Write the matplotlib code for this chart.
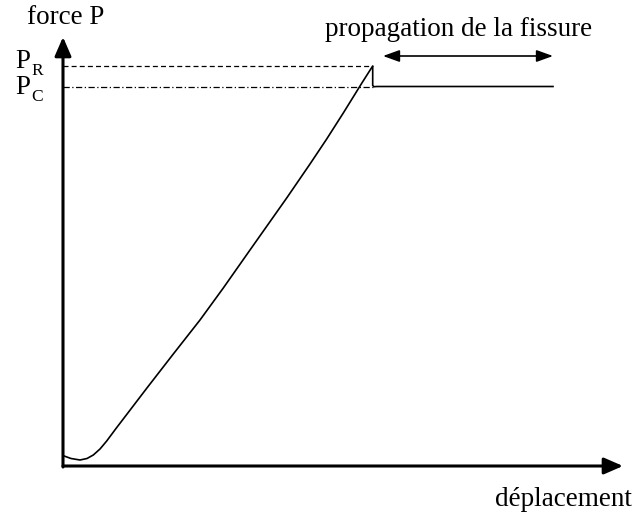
import matplotlib
matplotlib.use("Agg")
import matplotlib.pyplot as plt

# data: displacement / force (arbitrary units, origin at axes corner)
disp = [0.3, 8, 17, 24, 30.3, 37, 43.7, 53, 63.7, 83.7, 110.3, 137, 160.3, 187,
        223.7, 247, 263.7, 280.3, 298.7, 309.7, 309.7, 311, 314, 490]
force = [10.3, 7.5, 6, 7.5, 11, 17, 25, 37.5, 51.5, 77.7, 112, 146, 178, 216,
         268, 302, 327, 353, 382.7, 400, 380.5, 379.3, 379.5, 379.5]
P_R = 400
P_C = 379.5
x_peak = 309.7
prop_start = 320
prop_end = 490
x_axis_end = 560
y_axis_end = 429

FONT = "Liberation Serif"

fig = plt.figure(figsize=(6.32, 5.16), dpi=100)
ax = fig.add_axes([0, 0, 1, 1])
ax.set_xlim(-63, 569)
ax.set_ylim(-50, 466)
ax.axis("off")

# curve
ax.plot(disp, force, color="black", lw=1.2, solid_joinstyle="round")

# reference lines
ax.plot([0, x_peak], [P_R, P_R], color="black", lw=0.9, ls=(0, (4, 2.5)))
ax.plot([0, x_peak], [P_C, P_C], color="black", lw=0.9, ls=(0, (5, 2, 1, 2)))

# axes arrows
ax.annotate("", xy=(x_axis_end, 0), xytext=(0, 0),
            arrowprops=dict(arrowstyle="-|>,head_length=1.15,head_width=0.5", lw=2.2, color="black",
                            shrinkA=0, shrinkB=0))
ax.annotate("", xy=(0, y_axis_end), xytext=(0, -1),
            arrowprops=dict(arrowstyle="-|>,head_length=1.15,head_width=0.5", lw=2.2, color="black",
                            shrinkA=0, shrinkB=0))

# propagation double arrow
ax.annotate("", xy=(prop_end, 410), xytext=(prop_start, 410),
            arrowprops=dict(arrowstyle="<|-|>,head_length=1.0,head_width=0.36", lw=1.2, color="black",
                            shrinkA=0, shrinkB=0))

# texts
ax.text(396, 436, "propagation de la fissure", family=FONT, fontsize=19.5, ha="center", va="center")
ax.text(3, 448, "force P", family=FONT, fontsize=19.5, ha="center", va="center")
ax.text(500, -34, "déplacement", family=FONT, fontsize=19.5, ha="center", va="center")

ax.text(-48, 404, "P", family=FONT, fontsize=19.5, ha="left", va="center")
ax.text(-32, 395, "R", family=FONT, fontsize=12.5, ha="left", va="center")
ax.text(-48, 378, "P", family=FONT, fontsize=19.5, ha="left", va="center")
ax.text(-32, 369, "C", family=FONT, fontsize=12.5, ha="left", va="center")

fig.savefig("out.png", dpi=100)
